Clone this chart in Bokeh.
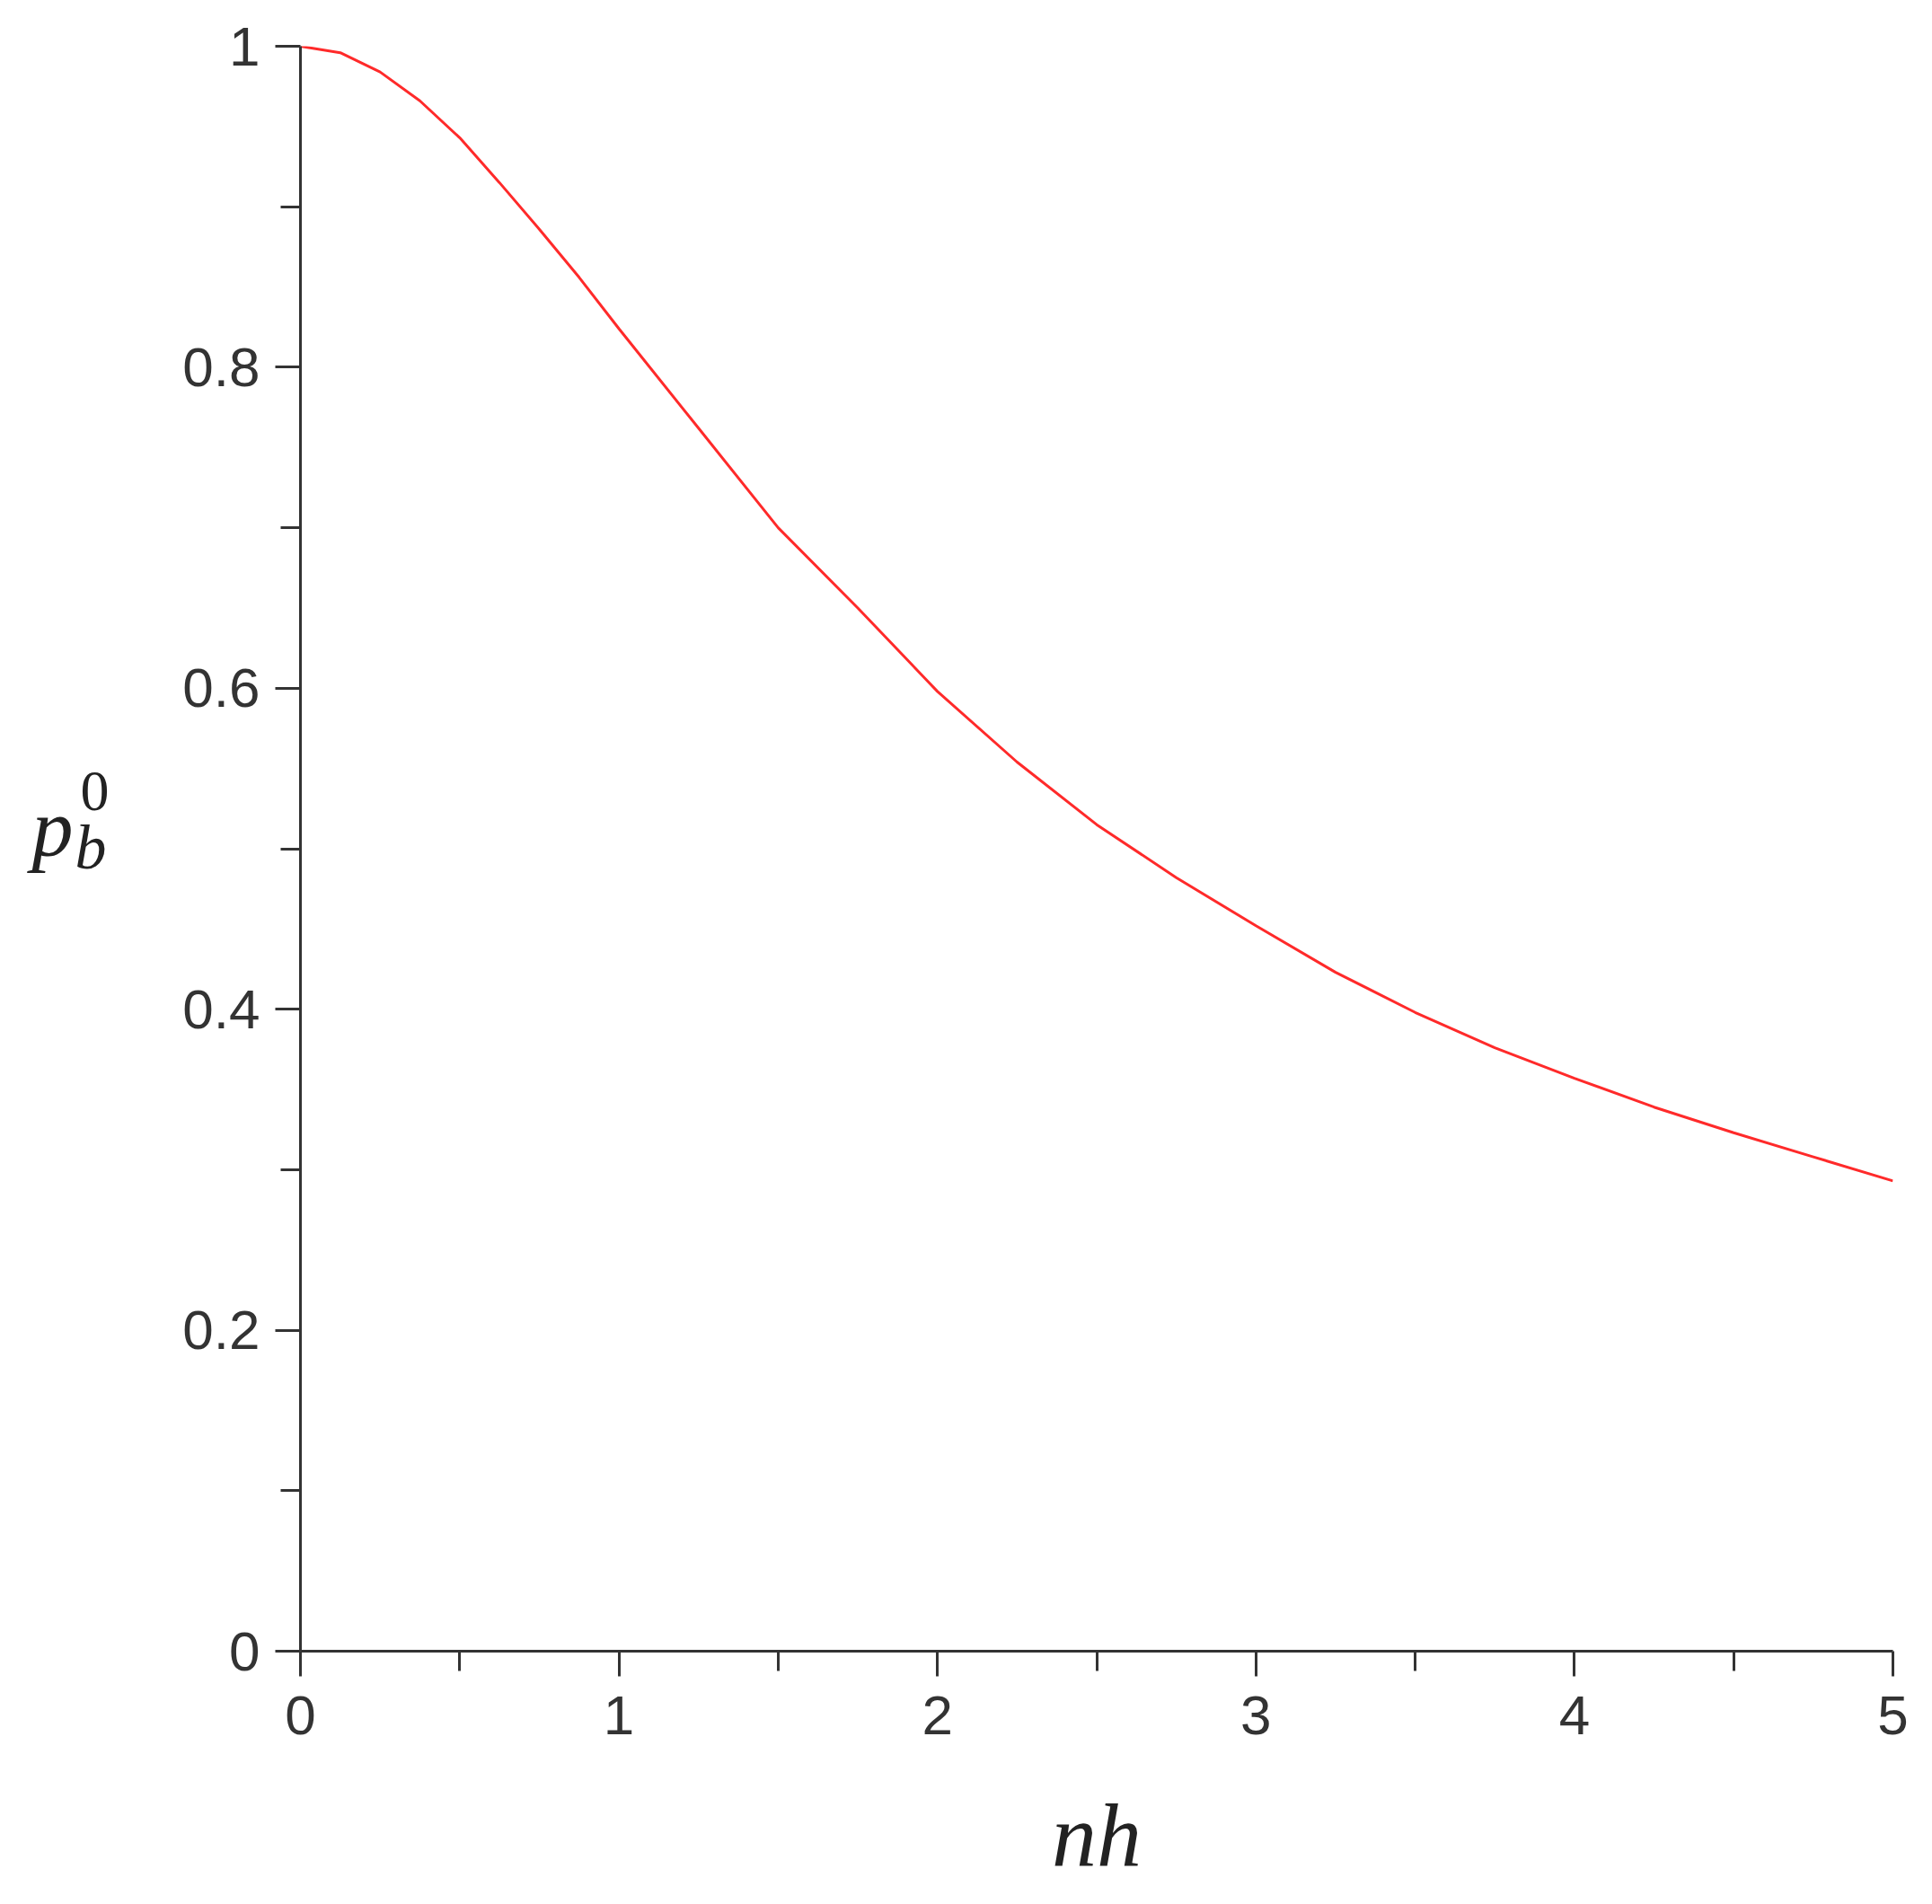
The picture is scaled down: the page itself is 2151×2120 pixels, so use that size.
from bokeh.plotting import figure
from bokeh.models import FixedTicker, Range1d
from bokeh.layouts import row
from bokeh.core.properties import value
from bokeh.embed import file_html
from bokeh.resources import INLINE

# Data
nh = [0.0, 0.125, 0.25, 0.375, 0.5, 0.625, 0.75, 0.875, 1.0, 1.25, 1.5, 1.75, 2.0, 2.25,
      2.5, 2.75, 3.0, 3.25, 3.5, 3.75, 4.0, 4.25, 4.5, 4.75, 5.0]
pb0 = [1.0, 0.996, 0.984, 0.966, 0.943, 0.915, 0.886, 0.856, 0.824, 0.762, 0.700, 0.650,
       0.598, 0.554, 0.515, 0.482, 0.452, 0.423, 0.398, 0.376, 0.357, 0.339, 0.323, 0.308, 0.293]

x_ticks = [0, 1, 2, 3, 4, 5]
x_minor = [0.5, 1.5, 2.5, 3.5, 4.5]
x_tick_labels = {0: "0", 1: "1", 2: "2", 3: "3", 4: "4", 5: "5"}
y_ticks = [0, 0.2, 0.4, 0.6, 0.8, 1.0]
y_minor = [0.1, 0.3, 0.5, 0.7, 0.9]
y_tick_labels = {0: "0", 0.2: "0.2", 0.4: "0.4", 0.6: "0.6", 0.8: "0.8", 1.0: "1"}
x_title = "nh"
y_title_parts = ["p", "b", "0"]   # p, subscript b, superscript 0

W, H = 2135, 2104
LW = 200          # side panel (y title) width

p = figure(width=W - LW, height=H, output_backend="svg", toolbar_location=None,
           x_range=Range1d(0, 5), y_range=Range1d(0, 1),
           min_border_left=134, min_border_right=28, min_border_top=51,
           min_border_bottom=H - 1838)
p.outline_line_color = None
p.grid.visible = False
p.background_fill_color = "white"
p.border_fill_color = "white"

p.line(nh, pb0, line_color="#ff2a2a", line_width=3)

p.xaxis.ticker = FixedTicker(ticks=x_ticks, minor_ticks=x_minor)
p.yaxis.ticker = FixedTicker(ticks=y_ticks, minor_ticks=y_minor)
p.xaxis.major_label_overrides = x_tick_labels
p.yaxis.major_label_overrides = y_tick_labels

for ax in (p.xaxis, p.yaxis):
    ax.axis_line_color = "#333333"
    ax.axis_line_width = 3
    ax.major_tick_line_color = "#333333"
    ax.major_tick_line_width = 3
    ax.minor_tick_line_color = "#333333"
    ax.minor_tick_line_width = 3
    ax.major_tick_in = 0
    ax.major_tick_out = 28
    ax.minor_tick_in = 0
    ax.minor_tick_out = 22
    ax.major_label_text_font = "Liberation Sans"
    ax.major_label_text_font_size = "62px"
    ax.major_label_text_color = "#333333"
p.xaxis.major_label_standoff = 22
p.yaxis.major_label_standoff = 17

p.xaxis.axis_label = x_title
p.xaxis.axis_label_text_font = "Liberation Serif"
p.xaxis.axis_label_text_font_style = "italic"
p.xaxis.axis_label_text_font_size = "100px"
p.xaxis.axis_label_text_color = "#222222"
p.xaxis.axis_label_standoff = 54

# Side panel sharing the plot's y range: y title p_b^0
s = figure(width=LW, height=H, output_backend="svg", toolbar_location=None,
           x_range=Range1d(0, LW), y_range=p.y_range,
           x_axis_location=None, y_axis_location=None,
           min_border=0, min_border_left=0, min_border_right=0,
           min_border_top=51, min_border_bottom=H - 1838)
s.grid.visible = False
s.outline_line_color = None
s.background_fill_color = "white"
s.border_fill_color = "white"
serif = value("Liberation Serif")
s.text(x=[35], y=[0.513], text=[y_title_parts[0]], text_font=serif,
       text_font_style="italic", text_font_size="92px", text_baseline="alphabetic",
       text_align="left", text_color="#222222")
s.text(x=[83], y=[0.501], text=[y_title_parts[1]], text_font=serif,
       text_font_style="italic", text_font_size="70px", text_baseline="alphabetic",
       text_align="left", text_color="#222222")
s.text(x=[89], y=[0.536], text=[y_title_parts[2]], text_font=serif,
       text_font_style="normal", text_font_size="64px", text_baseline="alphabetic",
       text_align="left", text_color="#222222")

layout = row(s, p, spacing=0)
open("out.html", "w").write(file_html(layout, INLINE))
